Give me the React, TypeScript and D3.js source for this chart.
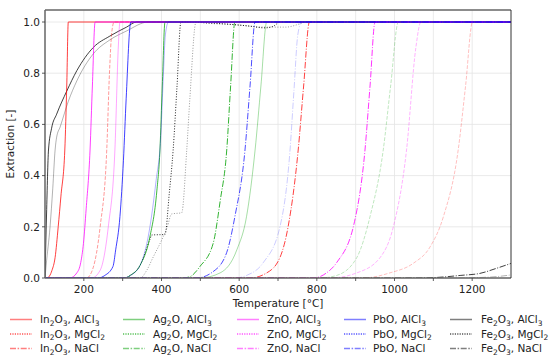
import React from "react";
import * as d3 from "d3";

type Pt = [number, number];

// Temperature [°C], extraction [-]
const fe2o3Solid: Pt[] = [[100,0],[104,0.25],[109,0.5],[117,0.585],[130,0.64],[156,0.73],[182,0.81],[224,0.9],[267,0.945],[310,0.98],[336,1],[1300,1]];
const fe2o3SolidLight: Pt[] = [[100,0],[103,0.05],[113,0.2],[120,0.35],[126,0.5],[130,0.55],[139,0.59],[160,0.69],[182,0.77],[224,0.875],[267,0.93],[310,0.965],[366,1],[1300,1]];
const fe2o3Dotted: Pt[] = [[100,0],[306,0],[320,0.01],[345,0.05],[370,0.15],[375,0.168],[409,0.17],[420,0.33],[430,0.5],[440,0.75],[450,1],[500,0.998],[584,0.99],[620,0.985],[667,0.977],[690,0.985],[705,1],[1300,1]];
const fe2o3DottedLight: Pt[] = [[100,0],[345,0],[362,0.03],[378,0.08],[401,0.15],[415,0.2],[426,0.25],[452,0.255],[465,0.5],[473,0.7],[489,1],[520,0.995],[584,0.99],[670,0.98],[720,0.98],[760,0.995],[770,1],[1300,1]];
const fe2o3DashDot: Pt[] = [[100,0],[1066,0],[1117,0.003],[1169,0.01],[1220,0.018],[1263,0.038],[1300,0.057]];
const fe2o3DashDotLight: Pt[] = [[100,0],[1150,0],[1250,0.004],[1300,0.012]];

const in2o3Solid: Pt[] = [[100,0],[105,0],[118,0.03],[126,0.08],[134,0.2],[141,0.32],[151,0.5],[156,0.75],[160,1],[1300,1]];
const in2o3SolidLight: Pt[] = [[100,0],[207,0],[224,0.04],[242,0.2],[259,0.5],[266,0.8],[272,0.96],[278,1],[1300,1]];
const in2o3DashDot: Pt[] = [[100,0],[628,0],[671,0.02],[705,0.08],[726,0.2],[752,0.5],[766,0.75],[781,1],[1300,1]];
const in2o3DashDotLight: Pt[] = [[100,0],[919,0],[988,0.02],[1048,0.057],[1091,0.12],[1126,0.24],[1164,0.5],[1183,0.75],[1201,1],[1300,1]];

const ag2oSolid: Pt[] = [[100,0],[306,0],[319,0.01],[345,0.05],[370,0.16],[388,0.34],[396,0.5],[402,0.75],[409,1],[1300,1]];
const ag2oSolidLight: Pt[] = [[100,0],[499,0],[551,0.02],[594,0.11],[619,0.24],[641,0.5],[656,0.75],[671,1],[1300,1]];
const ag2oDashDot: Pt[] = [[100,0],[455,0],[473,0.005],[499,0.045],[533,0.135],[551,0.3],[568,0.5],[578,0.75],[589,1],[1300,1]];
const ag2oDashDotLight: Pt[] = [[100,0],[808,0],[851,0.01],[903,0.08],[937,0.24],[971,0.5],[990,0.75],[1010,1],[1300,1]];

const znoSolid: Pt[] = [[100,0],[164,0],[182,0.02],[192,0.06],[199,0.135],[206,0.27],[216,0.5],[222,0.75],[229,1],[1300,1]];
const znoSolidLight: Pt[] = [[100,0],[220,0],[242,0.03],[263,0.2],[280,0.5],[289,0.91],[293,1],[1300,1]];
const znoDashDot: Pt[] = [[100,0],[790,0],[825,0.02],[851,0.06],[897,0.22],[924,0.5],[937,0.75],[950,1],[1300,1]];
const znoDashDotLight: Pt[] = [[100,0],[834,0],[903,0.02],[963,0.08],[997,0.2],[1031,0.5],[1055,0.9],[1068,1],[1300,1]];

const pboSolid: Pt[] = [[100,0],[237,0],[254,0.01],[275,0.045],[282,0.11],[293,0.24],[302,0.46],[309,0.7],[321,1],[1300,1]];
const pboSolidLight: Pt[] = [[100,0],[300,0],[320,0.01],[345,0.05],[368,0.18],[386,0.38],[398,0.55],[405,0.8],[410,0.95],[418,1],[1300,1]];
const pboDashDot: Pt[] = [[100,0],[490,0],[533,0.025],[568,0.1],[589,0.24],[615,0.5],[628,0.75],[641,1],[1300,1]];
const pboDashDotLight: Pt[] = [[100,0],[589,0],[619,0.01],[662,0.06],[705,0.2],[731,0.5],[741,0.73],[751,0.95],[761,1],[1300,1]];

const xTicks = [200, 400, 600, 800, 1000, 1200];
const xGrid = [200, 300, 400, 500, 600, 700, 800, 900, 1000, 1100, 1200];
const yTicks = [0, 0.2, 0.4, 0.6, 0.8, 1.0];

const oxides = ["In2O3", "Ag2O", "ZnO", "PbO", "Fe2O3"];
const salts = ["AlCl3", "MgCl2", "NaCl"];
const oxideColors = ["#ff0000", "#00a000", "#ff00ff", "#0000ff", "#000000"];

const DOT = "1,1.65";
const DASHDOT = "6.4,1.6,1,1.6";
const DASH = "3.7,1.6";

const series = [
  { data: fe2o3SolidLight, color: "#000000", dash: null, op: 0.3 },
  { data: fe2o3Solid, color: "#000000", dash: null, op: 0.75 },
  { data: fe2o3DottedLight, color: "#000000", dash: DOT, op: 0.4 },
  { data: fe2o3Dotted, color: "#000000", dash: DOT, op: 0.85 },
  { data: fe2o3DashDotLight, color: "#000000", dash: DASHDOT, op: 0.3 },
  { data: fe2o3DashDot, color: "#000000", dash: DASHDOT, op: 0.75 },
  { data: in2o3SolidLight, color: "#ff0000", dash: DASH, op: 0.4 },
  { data: in2o3Solid, color: "#ff0000", dash: null, op: 0.75 },
  { data: in2o3DashDotLight, color: "#ff0000", dash: DASH, op: 0.25 },
  { data: in2o3DashDot, color: "#ff0000", dash: DASHDOT, op: 0.75 },
  { data: ag2oSolidLight, color: "#00a000", dash: null, op: 0.35 },
  { data: ag2oSolid, color: "#00a000", dash: null, op: 0.75 },
  { data: ag2oDashDotLight, color: "#00a000", dash: DASH, op: 0.25 },
  { data: ag2oDashDot, color: "#00a000", dash: DASHDOT, op: 0.8 },
  { data: znoSolidLight, color: "#ff00ff", dash: null, op: 0.35 },
  { data: znoSolid, color: "#ff00ff", dash: null, op: 0.75 },
  { data: znoDashDotLight, color: "#ff00ff", dash: DASH, op: 0.3 },
  { data: znoDashDot, color: "#ff00ff", dash: DASHDOT, op: 0.8 },
  { data: pboSolidLight, color: "#0000ff", dash: null, op: 0.3 },
  { data: pboSolid, color: "#0000ff", dash: null, op: 0.75 },
  { data: pboDashDotLight, color: "#0000ff", dash: DASHDOT, op: 0.2 },
  { data: pboDashDot, color: "#0000ff", dash: DASHDOT, op: 0.7 },
];

const saltStyles = [
  { dash: null, op: 0.5, w: 1.5 },
  { dash: "1.2,1.2", op: 1, w: 1 },
  { dash: "6,1.6,1.5,1.6", op: 0.5, w: 1.5 },
];

const FONT = "'DejaVu Sans', sans-serif";

function Formula({ text }: { text: string }) {
  const parts: React.ReactNode[] = [];
  let sub = false;
  let buf = "";
  let key = 0;
  const flush = () => {
    if (!buf) return;
    parts.push(
      sub ? (
        <tspan key={key++} dy={2.5} fontSize={7.5}>{buf}</tspan>
      ) : (
        <tspan key={key++} dy={parts.length ? -2.5 : 0}>{buf}</tspan>
      )
    );
    buf = "";
  };
  for (const ch of text) {
    const isDigit = /[0-9]/.test(ch);
    if (isDigit !== sub) {
      flush();
      sub = isDigit;
    }
    buf += ch;
  }
  flush();
  if (sub) parts.push(<tspan key={key++} dy={-2.5}>{""}</tspan>);
  return <>{parts}</>;
}

export default function App() {
  const left = 45, right = 511, top = 10, bottom = 278;
  const x = d3.scaleLinear().domain([100, 1300]).range([left, right]);
  const y = d3.scaleLinear().domain([0, 1.0]).range([bottom, 22]);
  const line = d3
    .line<Pt>()
    .x((d) => x(d[0]))
    .y((d) => y(d[1]))
    .curve(d3.curveMonotoneX);

  const legendLineX = [10, 123, 237, 344, 450];
  const legendTextX = [40, 153, 267, 373, 481];
  const legendRowY = [319.5, 334, 348.5];

  return (
    <svg
      width={550}
      height={362}
      style={{ position: "absolute", left: 0, top: 0, background: "#fff" }}
      fontFamily={FONT}
    >
      <defs>
        <clipPath id="plotclip">
          <rect x={left} y={top} width={right - left} height={bottom - top} />
        </clipPath>
      </defs>
      {xGrid.map((t) => (
        <line key={"gx" + t} x1={x(t)} x2={x(t)} y1={top} y2={bottom} stroke="#e4e4e4" strokeWidth={0.8} />
      ))}
      {yTicks.map((t) => (
        <line key={"gy" + t} x1={left} x2={right} y1={y(t)} y2={y(t)} stroke="#e4e4e4" strokeWidth={0.8} />
      ))}
      <g clipPath="url(#plotclip)">
        {series.map((s, i) => (
          <path
            key={i}
            d={line(s.data) || ""}
            fill="none"
            stroke={s.color}
            strokeOpacity={s.op}
            strokeWidth={1}
            strokeDasharray={s.dash || undefined}
          />
        ))}
      </g>
      <line x1={left} x2={right} y1={top} y2={top} stroke="#666" strokeWidth={1.5} />
      <line x1={left} x2={right} y1={bottom} y2={bottom} stroke="#666" strokeWidth={1.5} />
      <line x1={left} x2={left} y1={top} y2={bottom} stroke="#666" strokeWidth={1.5} />
      <line x1={right} x2={right} y1={top} y2={bottom} stroke="#333" strokeWidth={1} />
      {xGrid.map((t) => (
        <line key={"tx" + t} x1={x(t)} x2={x(t)} y1={bottom} y2={bottom + 3} stroke="#333" strokeWidth={0.8} />
      ))}
      {xTicks.map((t) => (
        <text key={"lx" + t} x={x(t)} y={292.5} fontSize={10.5} textAnchor="middle" fill="#222">
          {t}
        </text>
      ))}
      {yTicks.map((t) => (
        <g key={"ty" + t}>
          <line x1={left - 3} x2={left} y1={y(t)} y2={y(t)} stroke="#333" strokeWidth={0.8} />
          <text x={left - 5} y={y(t) + 3.8} fontSize={10.5} textAnchor="end" fill="#222">
            {t.toFixed(1)}
          </text>
        </g>
      ))}
      <text x={(left + right) / 2} y={306.5} fontSize={10.5} textAnchor="middle" fill="#222">
        Temperature [°C]
      </text>
      <text
        transform={`translate(13.5, ${(top + bottom) / 2}) rotate(-90)`}
        fontSize={10.5}
        textAnchor="middle"
        fill="#222"
      >
        Extraction [-]
      </text>
      {oxides.map((ox, ci) =>
        salts.map((salt, ri) => {
          const st = saltStyles[ri];
          const yy = legendRowY[ri];
          return (
            <g key={ox + salt}>
              <line
                x1={legendLineX[ci]}
                x2={legendLineX[ci] + 22}
                y1={yy}
                y2={yy}
                stroke={oxideColors[ci]}
                strokeOpacity={st.op}
                strokeWidth={st.w}
                strokeDasharray={st.dash || undefined}
              />
              <text x={legendTextX[ci]} y={yy + 3.8} fontSize={10.5} fill="#222">
                <Formula text={ox + ", " + salt} />
              </text>
            </g>
          );
        })
      )}
    </svg>
  );
}
